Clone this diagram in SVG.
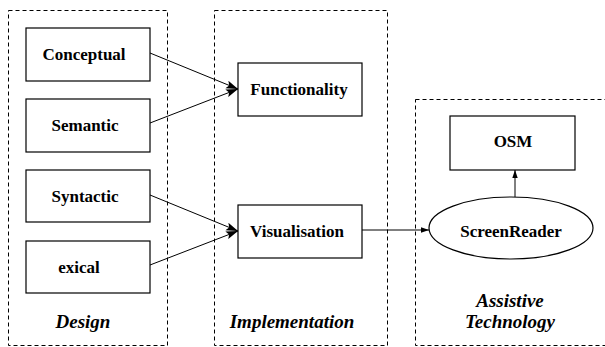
<svg xmlns="http://www.w3.org/2000/svg" width="605" height="347" viewBox="0 0 605 347">
<defs>
<style>
.grp{fill:none;stroke:#000;stroke-width:1;stroke-dasharray:4 3}
.box{fill:#fff;stroke:#000;stroke-width:1.2}
.lbl{font-weight:bold;font-size:17px;text-anchor:middle;fill:#000}
.ttl{font-weight:bold;font-style:italic;font-size:19px;text-anchor:middle;fill:#000}
.edge{fill:none;stroke:#000;stroke-width:1}
</style>
<marker id="big" markerWidth="13" markerHeight="9" refX="12" refY="4.5" orient="auto" markerUnits="userSpaceOnUse">
<path d="M0,0.5 L12,4.5 L0,8.5 L2.5,4.5 Z" fill="#000"/>
</marker>
<marker id="small" markerWidth="9" markerHeight="7" refX="8" refY="3.5" orient="auto" markerUnits="userSpaceOnUse">
<path d="M0,0.8 L8,3.5 L0,6.2 Z" fill="#000"/>
</marker>
</defs>
<rect width="605" height="347" fill="#fff"/>
<g font-family="'Liberation Serif', 'DejaVu Serif', serif">
<g id="design">
<rect class="grp" x="8.5" y="10.5" width="159" height="335"/>
<text class="ttl" x="83" y="328">Design</text>
</g>
<g id="implementation">
<rect class="grp" x="214.5" y="10.5" width="173" height="335"/>
<text class="ttl" x="292" y="328">Implementation</text>
</g>
<g id="assistive">
<rect class="grp" x="415.5" y="99.5" width="200" height="246"/>
<text class="ttl" x="510" y="307">Assistive</text>
<text class="ttl" x="510" y="328">Technology</text>
</g>
<g id="conceptual">
<rect class="box" x="26" y="28" width="124" height="53"/>
<text class="lbl" x="84" y="60">Conceptual</text>
</g>
<g id="semantic">
<rect class="box" x="26" y="99" width="124" height="53"/>
<text class="lbl" x="85" y="131">Semantic</text>
</g>
<g id="syntactic">
<rect class="box" x="26" y="170" width="124" height="52"/>
<text class="lbl" x="85" y="202">Syntactic</text>
</g>
<g id="exical">
<rect class="box" x="26" y="241" width="124" height="52"/>
<text class="lbl" x="79" y="273">exical</text>
</g>
<g id="functionality">
<rect class="box" x="238" y="63" width="124" height="53"/>
<text class="lbl" x="299" y="95">Functionality</text>
</g>
<g id="visualisation">
<rect class="box" x="238" y="205" width="124" height="53"/>
<text class="lbl" x="297" y="237">Visualisation</text>
</g>
<g id="osm">
<rect class="box" x="450" y="116" width="125" height="54"/>
<text class="lbl" x="513" y="147">OSM</text>
</g>
<g id="screenreader">
<ellipse class="box" cx="511" cy="228" rx="82" ry="31"/>
<text class="lbl" x="511" y="237">ScreenReader</text>
</g>
</g>
<g id="connectors">
<path class="edge" d="M150,53 L238,89" marker-end="url(#big)"/>
<path class="edge" d="M150,123 L238,89" marker-end="url(#big)"/>
<path class="edge" d="M150,195 L238,231" marker-end="url(#big)"/>
<path class="edge" d="M150,265 L238,231" marker-end="url(#big)"/>
<path class="edge" d="M362,230 L429,230" marker-end="url(#small)"/>
<path class="edge" d="M515,197 L515,170" marker-end="url(#small)"/>
</g>
</svg>
